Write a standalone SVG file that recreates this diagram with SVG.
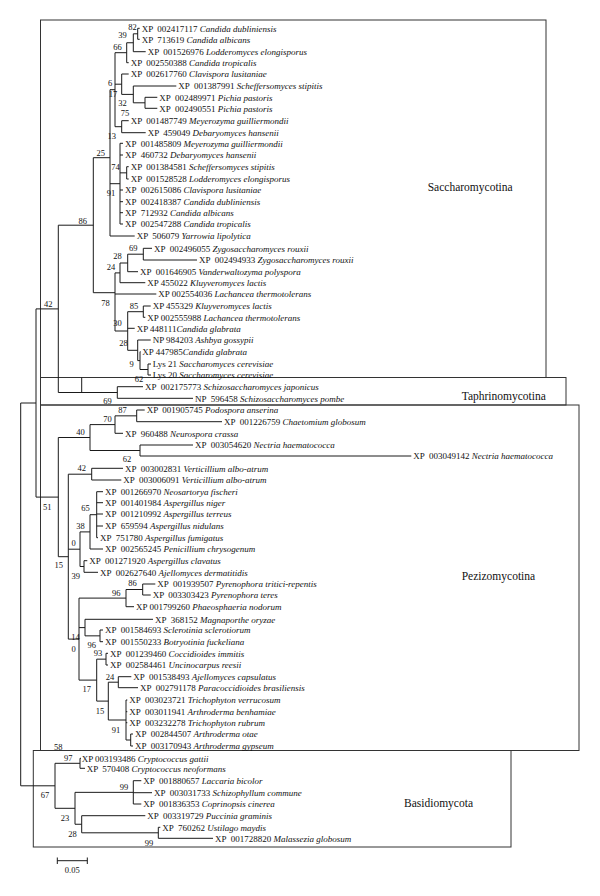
<svg xmlns="http://www.w3.org/2000/svg" width="600" height="896" viewBox="0 0 600 896">
<style>
.br{stroke:#1a1a1a;stroke-width:1;fill:none}
.box{fill:none;stroke:#333;stroke-width:1}
text{font-family:"Liberation Serif",serif;fill:#111}
.lf{font-size:9px}
.sp{font-style:italic}
.bs{font-size:8.5px;text-anchor:middle}
.cl{font-size:11.5px}
</style>
<rect width="600" height="896" fill="#fff"/>
<g id="clades">
<g id="saccharomycotina"><rect class="box" x="40.5" y="20" width="505.5" height="357.5"/><text class="cl" x="427.7" y="190.5">Saccharomycotina</text></g>
<g id="taphrinomycotina"><rect class="box" x="40.5" y="377.5" width="525.5" height="27.5"/><text class="cl" x="461.7" y="400">Taphrinomycotina</text></g>
<g id="pezizomycotina"><rect class="box" x="40.5" y="405" width="538.5" height="345.5"/><text class="cl" x="461.7" y="580">Pezizomycotina</text></g>
<g id="basidiomycota"><rect class="box" x="33.3" y="750.5" width="477.7" height="96.5"/><text class="cl" x="404" y="806.5">Basidiomycota</text></g>
</g>
<g id="connectors" class="br">
<path d="M137.7,28.3V39.3M137.7,28.3H139.7M137.7,39.3H139.7M133.3,33.8V51.7M133.3,33.8H137.7M133.3,51.7H145.7M126.7,42.75V62.7M126.7,42.75H133.3M126.7,62.7H128.7M145,97.3V108.3M145,97.3H157.3M145,108.3H157.3M133.3,86V102.8M133.3,86H176.3M133.3,102.8H145M121.7,74V94.4M121.7,74H128.7M121.7,94.4H133.3M121.7,120.7V132.7M121.7,120.7H128.7M121.7,132.7H145.7M115,52.7V126.7M115,52.7H126.7M115,84.2H121.7M115,126.7H121.7"/>
<path d="M126.7,166.7V179M126.7,166.7H128.7M126.7,179H128.7M120,143.3V224M120,143.3H123M120,155H123M120,172.85H126.7M120,190H123M120,201.7H123M120,212.7H123M120,224H123M110,89.7V236M110,89.7H115M110,183.7H120M110,236H134.7"/>
<path d="M143.3,248.3V260M143.3,248.3H152M143.3,260H197M127.7,254.2V271.7M127.7,254.2H143.3M127.7,271.7H138M120,263V282.7M120,263H127.7M120,282.7H145.3M143.3,306V317.3M143.3,306H150.7M143.3,317.3H145.3M148,364V375M148,364H151M148,375H151M140,351.7V369.5M140,351.7H140.5M140,369.5H148M137.7,340V360.6M137.7,340H150.7M137.7,360.6H140M127.7,311.7V350.3M127.7,311.7H143.3M127.7,328.3H134.7M127.7,350.3H137.7M115,272.9V331M115,272.9H120M115,294H156.3M115,331H127.7M93.3,157.7V292.7M93.3,157.7H110M93.3,292.7H115"/>
<path d="M58.3,225.2V392.5M58.3,225.2H93.3M58.3,392.5H117.3M117.3,386.7V398.3M117.3,386.7H143M117.3,398.3H193M81.7,377.5V392.5"/>
<path d="M136.7,410V421.7M136.7,410H144.7M136.7,421.7H222M115,415.85V433.3M115,415.85H136.7M115,433.3H123M140,445V456M140,445H193M140,456H411.3M90,424.6V450.5M90,424.6H115M90,450.5H140M91.7,468.3V480M91.7,468.3H123M91.7,480H121.3"/>
<path d="M96.7,491.7V537.7M96.7,491.7H103M96.7,502.7H103M96.7,514H103M96.7,526H103M96.7,537.7H98M90,514.7V549M90,514.7H96.7M90,549H103M84,560.7V572.3M84,560.7H87.3M84,572.3H98M80,531.9V566.5M80,531.9H90M80,566.5H84"/>
<path d="M142.7,584V595M142.7,584H155.3M142.7,595H150.7M126,589.5V606.7M126,589.5H142.7M126,606.7H134M100,630V641.7M100,630H103M100,641.7H103M85,619.3V635.85M85,619.3H153M85,635.85H100M106,653.3V665M106,653.3H108M106,665H108M118.3,676.7V687.7M118.3,676.7H131.3M118.3,687.7H138M130.7,734V746M130.7,734H133M130.7,746H133M126,700V740M126,700H127.3M126,711.7H127.3M126,722.7H127.3M126,740H130.7M108.3,682.2V720M108.3,682.2H118.3M108.3,720H126M96.7,659.15V701.1M96.7,659.15H106M96.7,701.1H108.3M79,598.1V680.1M79,598.1H126M79,627.6H85M79,680.1H96.7M68.3,474.2V639.1M68.3,474.2H91.7M68.3,549.2H80M68.3,639.1H79M58.3,437.5V556.7M58.3,437.5H90M58.3,556.7H68.3M36,308.9V497.1M36,308.9H58.3M36,497.1H58.3"/>
<path d="M80,758.3V768.3M80,758.3H81M80,768.3H85M133.3,780.7V804M133.3,780.7H141.3M133.3,792.7H152M133.3,804H141.3M158.3,827.3V838.3M158.3,827.3H160.3M158.3,838.3H213M81.7,815.7V832.8M81.7,815.7H145.3M81.7,832.8H158.3M75,792.35V824.25M75,792.35H133.3M75,824.25H81.7M55,763.3V808.3M55,763.3H80M55,808.3H75M20.7,403V785.8M20.7,403H36M20.7,785.8H55"/>
</g>
<g id="scale-bar"><path class="br" d="M57.3,860.7H87.3M57.3,857.5V864M87.3,857.5V864"/><text class="bs" x="72.3" y="873">0.05</text></g>
<g id="support" class="bs">
<text x="132.5" y="30.3">82</text><text x="122.5" y="38">39</text><text x="117.5" y="50">66</text><text x="110" y="86">6</text><text x="113" y="97">17</text><text x="122.5" y="106.3">32</text><text x="125" y="116.3">75</text><text x="111.7" y="139">13</text><text x="100.8" y="155.7">25</text><text x="115.5" y="170.3">74</text><text x="111" y="196.3">91</text><text x="82.8" y="223.7">86</text><text x="133.3" y="250.7">69</text><text x="117.5" y="259">28</text><text x="111" y="269.7">24</text><text x="105.5" y="305.7">78</text><text x="134" y="309">85</text><text x="117.5" y="326.3">30</text><text x="48.3" y="306.5">42</text><text x="123.5" y="346.3">28</text><text x="131.7" y="367">9</text><text x="139" y="382.3">62</text><text x="107.5" y="404">69</text>
<text x="122.5" y="413">87</text><text x="107.5" y="422.3">70</text><text x="80.5" y="434.7">40</text><text x="127" y="462">62</text><text x="81.7" y="471.3">42</text><text x="47.2" y="509.7">51</text><text x="85.5" y="511.3">65</text><text x="80.5" y="529">38</text><text x="73.5" y="546.3">0</text><text x="58.7" y="568">15</text><text x="75.8" y="578.7">39</text><text x="132.5" y="586.3">86</text><text x="116.2" y="596.3">96</text><text x="75.5" y="640.3">14</text><text x="91.7" y="648">96</text><text x="73.5" y="652.3">0</text><text x="98" y="655.7">93</text><text x="110" y="679.7">24</text><text x="86.7" y="692.3">17</text><text x="100" y="714">15</text><text x="116" y="733">91</text><text x="58.3" y="750.3">58</text>
<text x="68.3" y="761.3">97</text><text x="124" y="789.7">99</text><text x="45" y="798">67</text><text x="65" y="820.7">23</text><text x="72.5" y="837">28</text><text x="149" y="845.7">99</text>
</g>
<g id="leaves" class="lf">
<g id="n01"><text x="141.7" y="31.5">XP &#160;002417117 <tspan class="sp">Candida dubliniensis</tspan></text></g>
<g id="n02"><text x="141.7" y="42.5">XP &#160;713619 <tspan class="sp">Candida albicans</tspan></text></g>
<g id="n03"><text x="147.7" y="54.9">XP &#160;001526976 <tspan class="sp">Lodderomyces elongisporus</tspan></text></g>
<g id="n04"><text x="130.7" y="65.9">XP &#160;002550388 <tspan class="sp">Candida tropicalis</tspan></text></g>
<g id="n05"><text x="130.7" y="77.2">XP &#160;002617760 <tspan class="sp">Clavispora lusitaniae</tspan></text></g>
<g id="n06"><text x="178.3" y="89.2">XP &#160;001387991 <tspan class="sp">Scheffersomyces stipitis</tspan></text></g>
<g id="n07"><text x="159.3" y="100.5">XP &#160;002489971 <tspan class="sp">Pichia pastoris</tspan></text></g>
<g id="n08"><text x="159.3" y="111.5">XP &#160;002490551 <tspan class="sp">Pichia pastoris</tspan></text></g>
<g id="n09"><text x="130.7" y="123.9">XP &#160;001487749 <tspan class="sp">Meyerozyma guilliermondii</tspan></text></g>
<g id="n10"><text x="147.7" y="135.9">XP &#160;459049 <tspan class="sp">Debaryomyces hansenii</tspan></text></g>
<g id="n11"><text x="125" y="146.5">XP &#160;001485809 <tspan class="sp">Meyerozyma guilliermondii</tspan></text></g>
<g id="n12"><text x="125" y="158.2">XP &#160;460732 <tspan class="sp">Debaryomyces hansenii</tspan></text></g>
<g id="n13"><text x="130.7" y="169.9">XP &#160;001384581 <tspan class="sp">Scheffersomyces stipitis</tspan></text></g>
<g id="n14"><text x="130.7" y="182.2">XP &#160;001528528 <tspan class="sp">Lodderomyces elongisporus</tspan></text></g>
<g id="n15"><text x="125" y="193.2">XP &#160;002615086 <tspan class="sp">Clavispora lusitaniae</tspan></text></g>
<g id="n16"><text x="125" y="204.9">XP &#160;002418387 <tspan class="sp">Candida dubliniensis</tspan></text></g>
<g id="n17"><text x="125" y="215.9">XP &#160;712932 <tspan class="sp">Candida albicans</tspan></text></g>
<g id="n18"><text x="125" y="227.2">XP &#160;002547288 <tspan class="sp">Candida tropicalis</tspan></text></g>
<g id="n19"><text x="136.7" y="239.2">XP &#160;506079 <tspan class="sp">Yarrowia lipolytica</tspan></text></g>
<g id="n20"><text x="154" y="251.5">XP &#160;002496055 <tspan class="sp">Zygosaccharomyces rouxii</tspan></text></g>
<g id="n21"><text x="199" y="263.2">XP &#160;002494933 <tspan class="sp">Zygosaccharomyces rouxii</tspan></text></g>
<g id="n22"><text x="140" y="274.9">XP &#160;001646905 <tspan class="sp">Vanderwaltozyma polyspora</tspan></text></g>
<g id="n23"><text x="147.3" y="285.9">XP 455022 <tspan class="sp">Kluyveromyces lactis</tspan></text></g>
<g id="n24"><text x="158.3" y="297.2">XP 002554036 <tspan class="sp">Lachancea thermotolerans</tspan></text></g>
<g id="n25"><text x="152.7" y="309.2">XP 455329 <tspan class="sp">Kluyveromyces lactis</tspan></text></g>
<g id="n26"><text x="147.3" y="320.5">XP 002555988 <tspan class="sp">Lachancea thermotolerans</tspan></text></g>
<g id="n27"><text x="136.7" y="331.5">XP 448111<tspan class="sp">Candida glabrata</tspan></text></g>
<g id="n28"><text x="152.7" y="343.2">NP 984203 <tspan class="sp">Ashbya gossypii</tspan></text></g>
<g id="n29"><text x="142.3" y="354.9">XP 447985<tspan class="sp">Candida glabrata</tspan></text></g>
<g id="n30"><text x="152.7" y="367.2">Lys 21 <tspan class="sp">Saccharomyces cerevisiae</tspan></text></g>
<g id="n31"><text x="152.7" y="378.2">Lys 20 <tspan class="sp">Saccharomyces cerevisiae</tspan></text></g>
<g id="n32"><text x="145" y="389.9">XP &#160;002175773 <tspan class="sp">Schizosaccharomyces japonicus</tspan></text></g>
<g id="n33"><text x="195" y="401.5">NP &#160;596458 <tspan class="sp">Schizosaccharomyces pombe</tspan></text></g>
<g id="n34"><text x="146.7" y="413.2">XP &#160;001905745 <tspan class="sp">Podospora anserina</tspan></text></g>
<g id="n35"><text x="224" y="424.9">XP &#160;001226759 <tspan class="sp">Chaetomium globosum</tspan></text></g>
<g id="n36"><text x="125" y="436.5">XP &#160;960488 <tspan class="sp">Neurospora crassa</tspan></text></g>
<g id="n37"><text x="195" y="448.2">XP &#160;003054620 <tspan class="sp">Nectria haematococca</tspan></text></g>
<g id="n38"><text x="413.3" y="459.2">XP &#160;003049142 <tspan class="sp">Nectria haematococca</tspan></text></g>
<g id="n39"><text x="125" y="471.5">XP &#160;003002831 <tspan class="sp">Verticillium albo-atrum</tspan></text></g>
<g id="n40"><text x="123.3" y="483.2">XP &#160;003006091 <tspan class="sp">Verticillium albo-atrum</tspan></text></g>
<g id="n41"><text x="105" y="494.9">XP &#160;001266970 <tspan class="sp">Neosartorya fischeri</tspan></text></g>
<g id="n42"><text x="105" y="505.9">XP &#160;001401984 <tspan class="sp">Aspergillus niger</tspan></text></g>
<g id="n43"><text x="105" y="517.2">XP &#160;001210992 <tspan class="sp">Aspergillus terreus</tspan></text></g>
<g id="n44"><text x="105" y="529.2">XP &#160;659594 <tspan class="sp">Aspergillus nidulans</tspan></text></g>
<g id="n45"><text x="100" y="540.9">XP &#160;751780 <tspan class="sp">Aspergillus fumigatus</tspan></text></g>
<g id="n46"><text x="105" y="552.2">XP &#160;002565245 <tspan class="sp">Penicillium chrysogenum</tspan></text></g>
<g id="n47"><text x="89.3" y="563.9">XP &#160;001271920 <tspan class="sp">Aspergillus clavatus</tspan></text></g>
<g id="n48"><text x="100" y="575.5">XP &#160;002627640 <tspan class="sp">Ajellomyces dermatitidis</tspan></text></g>
<g id="n49"><text x="157.3" y="587.2">XP &#160;001939507 <tspan class="sp">Pyrenophora tritici-repentis</tspan></text></g>
<g id="n50"><text x="152.7" y="598.2">XP &#160;003303423 <tspan class="sp">Pyrenophora teres</tspan></text></g>
<g id="n51"><text x="136" y="609.9">XP 001799260 <tspan class="sp">Phaeosphaeria nodorum</tspan></text></g>
<g id="n52"><text x="155" y="622.5">XP &#160;368152 <tspan class="sp">Magnaporthe oryzae</tspan></text></g>
<g id="n53"><text x="105" y="633.2">XP &#160;001584693 <tspan class="sp">Sclerotinia sclerotiorum</tspan></text></g>
<g id="n54"><text x="105" y="644.9">XP &#160;001550233 <tspan class="sp">Botryotinia fuckeliana</tspan></text></g>
<g id="n55"><text x="110" y="656.5">XP &#160;001239460 <tspan class="sp">Coccidioides immitis</tspan></text></g>
<g id="n56"><text x="110" y="668.2">XP &#160;002584461 <tspan class="sp">Uncinocarpus reesii</tspan></text></g>
<g id="n57"><text x="133.3" y="679.9">XP &#160;001538493 <tspan class="sp">Ajellomyces capsulatus</tspan></text></g>
<g id="n58"><text x="140" y="690.9">XP &#160;002791178 <tspan class="sp">Paracoccidioides brasiliensis</tspan></text></g>
<g id="n59"><text x="129.3" y="703.2">XP &#160;003023721 <tspan class="sp">Trichophyton verrucosum</tspan></text></g>
<g id="n60"><text x="129.3" y="714.9">XP &#160;003011941 <tspan class="sp">Arthroderma benhamiae</tspan></text></g>
<g id="n61"><text x="129.3" y="725.9">XP &#160;003232278 <tspan class="sp">Trichophyton rubrum</tspan></text></g>
<g id="n62"><text x="135" y="737.2">XP &#160;002844507 <tspan class="sp">Arthroderma otae</tspan></text></g>
<g id="n63"><text x="135" y="749.2">XP &#160;003170943 <tspan class="sp">Arthroderma gypseum</tspan></text></g>
<g id="n64"><text x="81.7" y="761.5">XP 003193486 <tspan class="sp">Cryptococcus gattii</tspan></text></g>
<g id="n65"><text x="86.7" y="771.5">XP &#160;570408 <tspan class="sp">Cryptococcus neoformans</tspan></text></g>
<g id="n66"><text x="143.3" y="783.9">XP &#160;001880657 <tspan class="sp">Laccaria bicolor</tspan></text></g>
<g id="n67"><text x="154" y="795.9">XP &#160;003031733 <tspan class="sp">Schizophyllum commune</tspan></text></g>
<g id="n68"><text x="143.3" y="807.2">XP &#160;001836353 <tspan class="sp">Coprinopsis cinerea</tspan></text></g>
<g id="n69"><text x="147.3" y="818.9">XP &#160;003319729 <tspan class="sp">Puccinia graminis</tspan></text></g>
<g id="n70"><text x="162.3" y="830.5">XP &#160;760262 <tspan class="sp">Ustilago maydis</tspan></text></g>
<g id="n71"><text x="215" y="841.5">XP &#160;001728820 <tspan class="sp">Malassezia globosum</tspan></text></g>
</g>
</svg>
